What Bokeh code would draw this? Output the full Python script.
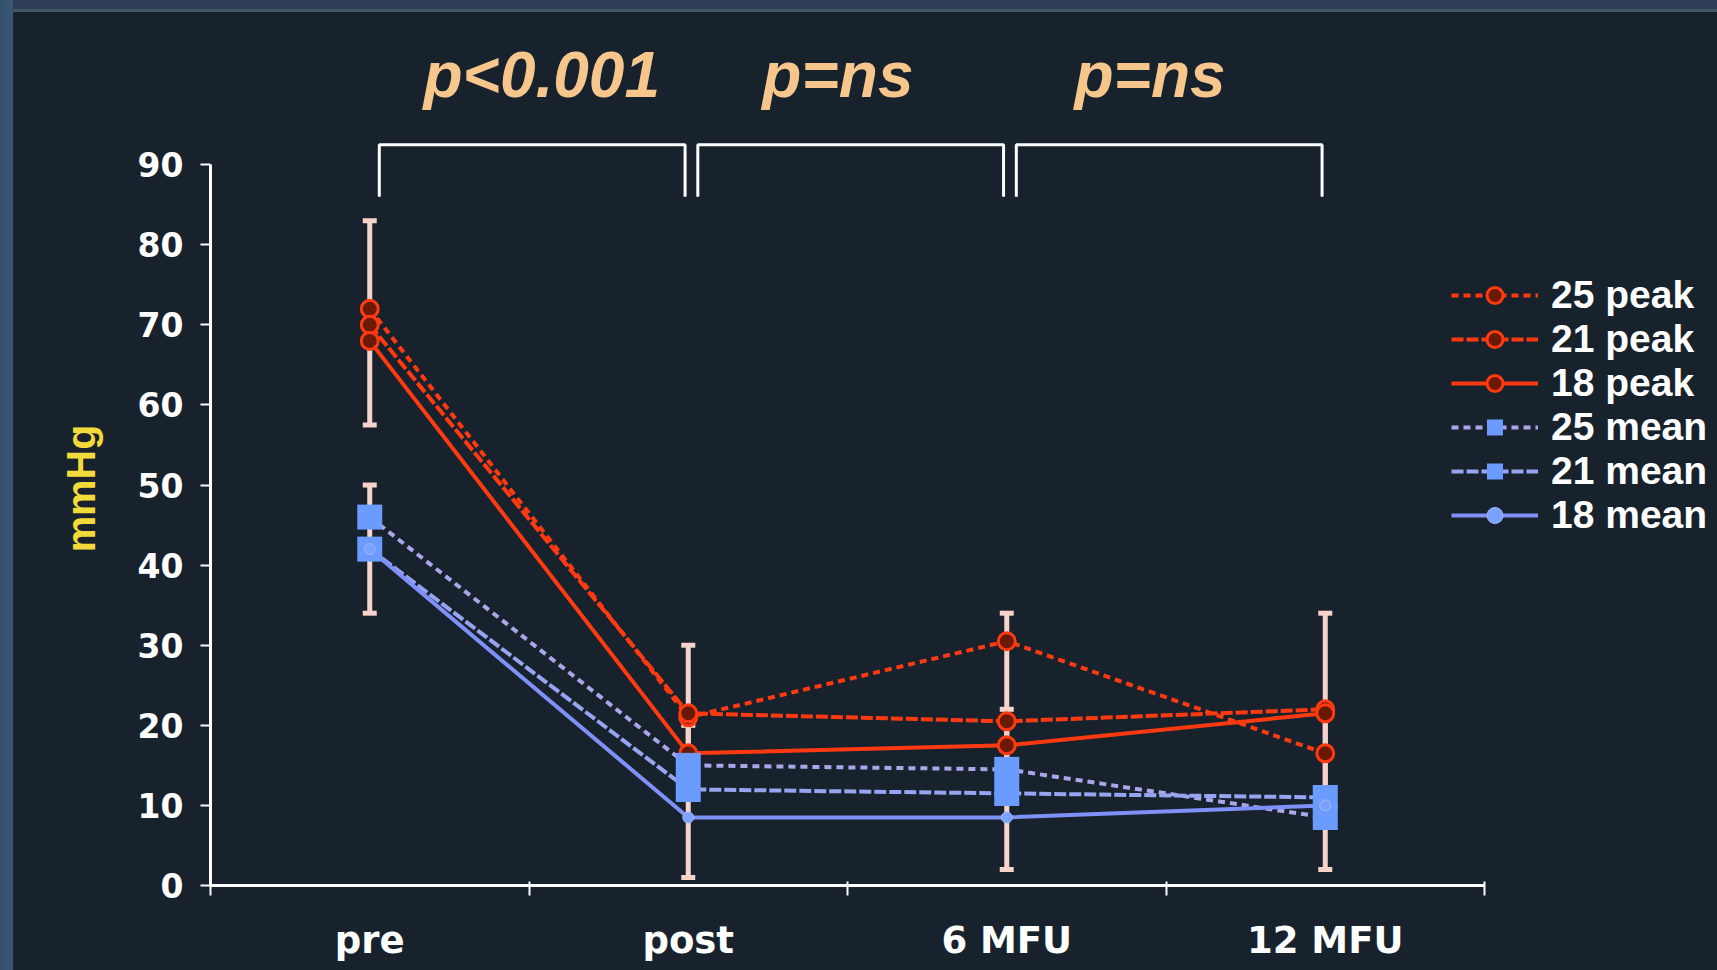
from bokeh.plotting import figure
from bokeh.models import (Range1d, FixedTicker, Legend, LegendItem,
                          ColumnDataSource)
from bokeh.core.properties import value
from bokeh.embed import file_html
from bokeh.resources import INLINE

# Time points
categories = ["pre", "post", "6 MFU", "12 MFU"]

# Peak gradients (mmHg) by valve size
peak_25 = [72, 21, 30.5, 16.5]
peak_21 = [70, 21.5, 20.5, 22]
peak_18 = [68, 16.5, 17.5, 21.5]

# Mean gradients (mmHg) by valve size
mean_25 = [46, 15, 14.5, 8.5]
mean_21 = [42, 12, 11.5, 11]
mean_18 = [42, 8.5, 8.5, 10]

# Error bar extents
peak_err_low = [57.5, 12, 12, 12]
peak_err_high = [83, 30, 34, 34]
mean_err_low = [34, 1, 2, 2]
mean_err_high = [50, 20, 22, 22]

# Significance between consecutive time points
p_labels = ["p<0.001", "p=ns", "p=ns"]

y_ticks = list(range(0, 91, 10))

BG = "#17222d"
RED = "#ff3a10"
WHITE = "#ffffff"
BAR = "#f6d4cc"

x = [i + 0.5 for i in range(len(categories))]

# Slide background: left and top edge bands painted behind a transparent canvas
slide_bg = ("linear-gradient(to right, #33506c 0px, #3a5774 13px, transparent 13px), "
            "linear-gradient(to bottom, #2c3d55 0px, #2c3d55 9px, #46576a 9px, "
            "#46576a 12px, " + BG + " 12px)")

p = figure(width=1717, height=970,
           x_range=Range1d(0, 4.7315), y_range=Range1d(0, 110.5),
           output_backend="svg", toolbar_location=None,
           min_border_left=210, min_border_right=0,
           min_border_top=0, min_border_bottom=85,
           background_fill_alpha=0, border_fill_alpha=0,
           outline_line_color=None)
p.styles = {"background": slide_bg}
p.grid.visible = False

# Axes
xa = p.xaxis[0]
xa.ticker = FixedTicker(ticks=x, minor_ticks=list(range(len(categories) + 1)))
xa.bounds = (0, len(categories))
xa.major_label_overrides = {xi: c for xi, c in zip(x, categories)}
xa.major_tick_in = 0
xa.major_tick_out = 0
xa.minor_tick_in = 4
xa.minor_tick_out = 10
xa.minor_tick_line_color = WHITE
xa.minor_tick_line_width = 2
xa.axis_line_color = WHITE
xa.axis_line_width = 3
xa.major_label_text_color = WHITE
xa.major_label_text_font = "DejaVu Sans"
xa.major_label_text_font_style = "bold"
xa.major_label_text_font_size = "37px"
xa.major_label_standoff = 23

ya = p.yaxis[0]
ya.ticker = FixedTicker(ticks=y_ticks, minor_ticks=[])
ya.bounds = (0, 90)
ya.major_tick_in = 0
ya.major_tick_out = 10
ya.major_tick_line_color = WHITE
ya.major_tick_line_width = 2
ya.axis_line_color = WHITE
ya.axis_line_width = 3
ya.major_label_text_color = WHITE
ya.major_label_text_font = "DejaVu Sans"
ya.major_label_text_font_style = "bold"
ya.major_label_text_font_size = "33px"
ya.major_label_standoff = 17
# non-breaking spaces keep the unit label centred on the 0-90 scale
ya.axis_label = "mmHg" + "\u00a0" * 8
ya.axis_label_text_color = "#f2da3a"
ya.axis_label_text_font = "Liberation Sans"
ya.axis_label_text_font_style = "bold"
ya.axis_label_text_font_size = "41px"
ya.axis_label_standoff = 31

# Significance brackets between consecutive time points
bracket_top, bracket_foot = 92.5, 86
label_shift = [0.03, -0.04, -0.06]
xs, ys, mids = [], [], []
for i in range(len(categories) - 1):
    left, right = x[i] + 0.03, x[i + 1] - 0.01
    xs.append([left, left, right, right])
    ys.append([bracket_foot, bracket_top, bracket_top, bracket_foot])
    mids.append((left + right) / 2 + label_shift[i])
p.multi_line(xs, ys, line_color=WHITE, line_width=3)
p.text(x=mids, y=[101.2] * len(mids), text=p_labels,
       text_font=value("Liberation Sans"), text_font_style="bold italic",
       text_font_size="64px", text_color="#f7c68c",
       text_align="center", text_baseline="middle")

# Error bars with caps
for lo, hi in [(peak_err_low, peak_err_high), (mean_err_low, mean_err_high)]:
    src = ColumnDataSource(dict(x=x, lo=lo, hi=hi))
    p.segment(x0="x", y0="lo", x1="x", y1="hi", source=src,
              line_color=BAR, line_width=5)
    for key in ("lo", "hi"):
        p.scatter(x="x", y=key, source=src, marker="dash", size=14,
                  line_color=BAR, line_width=5)

# Series: (label, values, line color, dash, marker, marker size, fill)
series = [
    ("25 peak", peak_25, RED, "7 5", "circle", 17, "#6a1a04"),
    ("21 peak", peak_21, RED, "12 3", "circle", 17, "#6a1a04"),
    ("18 peak", peak_18, RED, "solid", "circle", 17, "#6a1a04"),
    ("25 mean", mean_25, "#aaa6ea", "7 5", "square", 25, "#6b9bff"),
    ("21 mean", mean_21, "#97a4f2", "12 3", "square", 25, "#6b9bff"),
    ("18 mean", mean_18, "#7f90f8", "solid", "circle", 11, "#7ba2ff"),
]

line_renderers, marker_renderers = [], []
for label, vals, color, dash, marker, size, fill in series:
    r = p.line(x, vals, line_color=color, line_width=4, line_dash=dash)
    line_renderers.append(r)
for label, vals, color, dash, marker, size, fill in series:
    if marker == "square":
        m = p.scatter(x, vals, marker="square", size=size,
                      fill_color=fill, line_color=None)
    elif size > 12:
        m = p.scatter(x, vals, marker="circle", size=size,
                      fill_color=fill, line_color=RED, line_width=3)
    else:
        m = p.scatter(x, vals, marker="circle", size=size,
                      fill_color=fill, line_color="#9fb8ff", line_width=1)
    marker_renderers.append(m)

items = [LegendItem(label=s[0], renderers=[lr, mr])
         for s, lr, mr in zip(series, line_renderers, marker_renderers)]
legend = Legend(items=items, location=(1241, 348),
                border_line_color=None, background_fill_alpha=0,
                label_text_color=WHITE, label_text_font="Liberation Sans",
                label_text_font_style="bold", label_text_font_size="39px",
                glyph_width=87, glyph_height=40, label_height=44,
                spacing=0, padding=0, margin=0, label_standoff=13)
p.add_layout(legend)

open("out.html", "w").write(file_html(p, INLINE))
